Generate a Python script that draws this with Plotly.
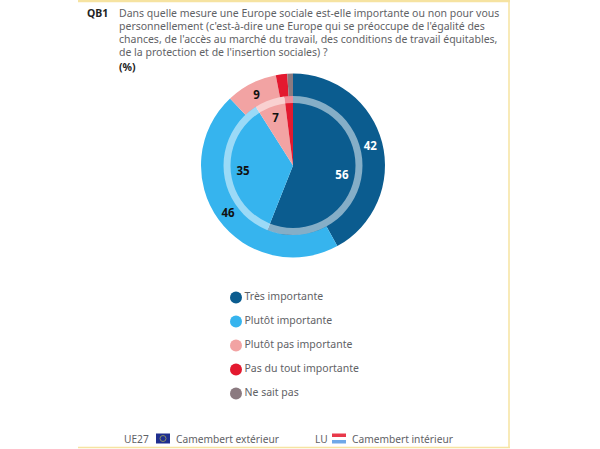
import plotly.graph_objects as go

categories = ["Très importante", "Plutôt importante", "Plutôt pas importante",
              "Pas du tout importante", "Ne sait pas"]
outer_ue27 = [42, 46, 9, 2, 1]
inner_lu = [56, 35, 7, 2, 0]
outer_labels = ["42", "46", "9", "", ""]
inner_labels = ["56", "35", "7", "", ""]
colors = ["#0b5c8f", "#36b4ee", "#f2a3a3", "#e3192f", "#8b7a80"]
label_colors = ["#ffffff", "#111111", "#111111", "#111111", "#111111"]
question_lines = [
    "Dans quelle mesure une Europe sociale est-elle importante ou non pour vous",
    "personnellement (c'est-à-dire une Europe qui se préoccupe de l'égalité des",
    "chances, de l'accès au marché du travail, des conditions de travail équitables,",
    "de la protection et de l'insertion sociales) ?",
]

W, H = 600, 449
FONT = "Noto Sans"
TEXT = "#5f6266"
CX, CY = 293, 165.5
R_OUT, R_RING, R_IN = 92, 69.5, 62.5


def dom(r):
    return dict(x=[(CX - r) / W, (CX + r) / W], y=[1 - (CY + r) / H, 1 - (CY - r) / H])


def px(x):
    return x / W


def py(y):
    return 1 - y / H


fig = go.Figure()
pie_common = dict(sort=False, direction="clockwise", rotation=0, showlegend=False,
                  hoverinfo="skip", textinfo="text", textposition="inside",
                  insidetextorientation="horizontal")
fig.add_trace(go.Pie(values=outer_ue27, labels=categories, text=outer_labels, hole=R_RING / R_OUT * 0.98,
                     domain=dom(R_OUT), marker=dict(colors=colors, line=dict(width=0)),
                     insidetextfont=dict(family=FONT, size=11.5, color=label_colors, weight="bold"),
                     **pie_common))
fig.add_trace(go.Pie(values=inner_lu, labels=categories, hole=0, domain=dom(R_RING),
                     marker=dict(colors=colors, line=dict(width=0)),
                     sort=False, direction="clockwise", rotation=0, showlegend=False,
                     hoverinfo="skip", textinfo="none"))
fig.add_trace(go.Pie(values=[1], labels=["anneau"], hole=R_IN / R_RING, domain=dom(R_RING),
                     marker=dict(colors=["rgba(255,255,255,0.5)"], line=dict(width=0)),
                     sort=False, showlegend=False, hoverinfo="skip", textinfo="none"))
fig.add_trace(go.Pie(values=inner_lu, labels=categories, text=inner_labels, hole=0.6, domain=dom(R_IN),
                     marker=dict(colors=["rgba(0,0,0,0)"] * 5, line=dict(width=0)),
                     insidetextfont=dict(family=FONT, size=11.5, color=label_colors, weight="bold"),
                     **pie_common))

# legend: one marker + label per category, on a hidden axis scaled in page pixels
fig.add_trace(go.Scatter(x=[236] * len(categories), y=[297.5 + 24 * i for i in range(len(categories))],
                         mode="markers+text", text=categories, textposition="middle right",
                         marker=dict(color=colors, size=12, symbol="circle"),
                         textfont=dict(family=FONT, size=10.5, color=TEXT),
                         showlegend=False, hoverinfo="skip"))

BORDER = "#f6e3a1"


def frame_line(x0, y0, x1, y1, width):
    return dict(type="line", xref="paper", yref="paper", x0=px(x0), x1=px(x1), y0=py(y0), y1=py(y1),
                line=dict(color=BORDER, width=width))


def flag_band(x0, x1, y0, y1, color):
    return dict(type="rect", xref="paper", yref="paper", x0=px(x0), x1=px(x1), y0=py(y1), y1=py(y0),
                line=dict(width=0), fillcolor=color)


shapes = [
    frame_line(78, 1, 510, 1, 2.5),
    frame_line(509, 1, 509, 447, 1.5),
    frame_line(78, 447.5, 510, 447.5, 1.5),
    flag_band(156, 170, 433.5, 443.5, "#1f2f8f"),
    dict(type="circle", xref="paper", yref="paper", x0=px(160), x1=px(166), y0=py(441.5), y1=py(435.5),
         line=dict(color="#8a8f63", width=1), fillcolor="rgba(0,0,0,0)"),
    flag_band(332, 346, 433.5, 437, "#e8394a"),
    flag_band(332, 346, 437, 440, "#ffffff"),
    flag_band(332, 346, 440, 443.5, "#6fa8e8"),
]


def note(x, y, text, size=10.5, color=TEXT, bold=False):
    return dict(xref="paper", yref="paper", x=px(x), y=py(y), text=text, showarrow=False,
                xanchor="left", yanchor="middle", align="left", xshift=-1,
                font=dict(family=FONT, size=size, color=color, weight="bold" if bold else "normal"))


annotations = [note(86, 13, "QB1", size=10.5, color="#222222", bold=True)]
for i, line in enumerate(question_lines):
    annotations.append(note(118, 13 + i * 13, line))
annotations.append(note(118, 67, "(%)", size=10.5, color="#222222", bold=True))
annotations += [
    note(123, 439, "UE27", size=10.2), note(175, 439, "Camembert extérieur", size=10.2),
    note(314, 439, "LU", size=10.2), note(351, 439, "Camembert intérieur", size=10.2),
]

fig.update_layout(
    width=W, height=H, autosize=False, margin=dict(l=0, r=0, t=0, b=0),
    paper_bgcolor="white", plot_bgcolor="rgba(0,0,0,0)",
    xaxis=dict(visible=False, range=[0, W], domain=[0, 1]),
    yaxis=dict(visible=False, range=[H, 0], domain=[0, 1]),
    shapes=shapes, annotations=annotations, showlegend=False,
)
fig.write_html("out.html", config={"displayModeBar": False},
               post_script="document.body.style.margin='0';document.documentElement.style.overflow='hidden';")
